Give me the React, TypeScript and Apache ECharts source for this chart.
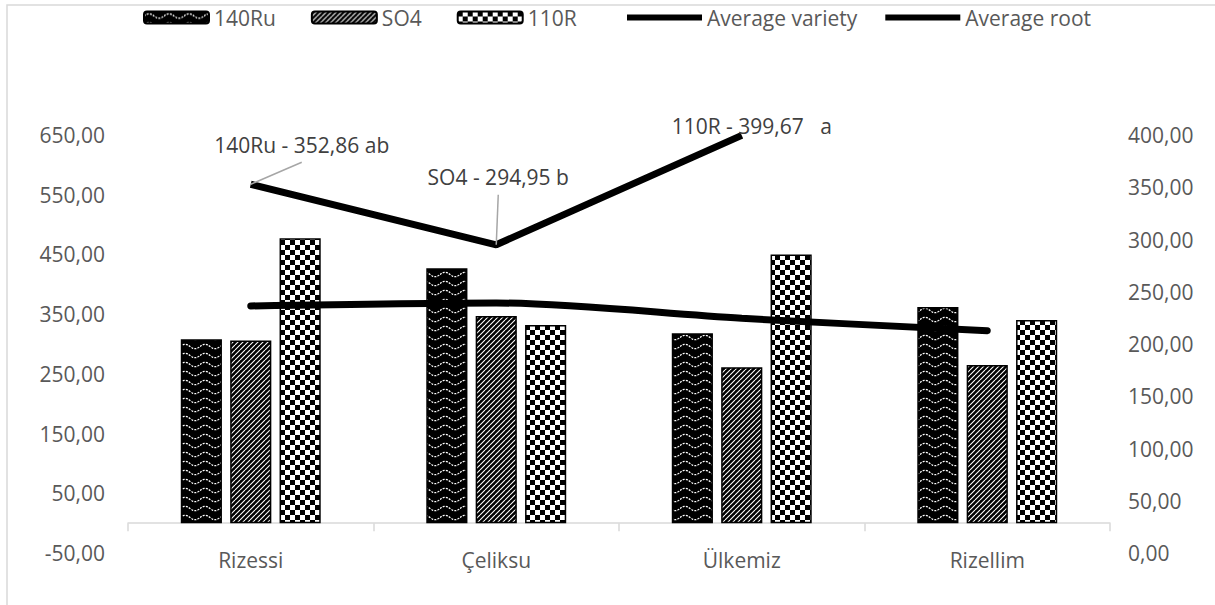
import React, { useEffect, useRef } from "react";
import * as echarts from "echarts";

// Grape varieties on the category axis
const categories = ["Rizessi", "Çeliksu", "Ülkemiz", "Rizellim"];

// Bar values per rootstock (left axis)
const ru140 = [308, 427, 318, 362];
const so4 = [306, 347, 261, 265];
const r110 = [477, 332, 450, 340];

// Mean of the three rootstocks for each variety (left axis)
const avgVariety = [363.7, 368.7, 343.0, 322.3];

// Mean per rootstock (right axis), placed on the first three categories
const rootNames = ["140Ru", "SO4", "110R"];
const avgRoot = [352.86, 294.95, 399.67];
const rootGroups = [" ab", " b", "   a"];

// Tick labels
const leftTicks = [-50, 50, 150, 250, 350, 450, 550, 650];
const rightTicks = [0, 50, 100, 150, 200, 250, 300, 350, 400];

const FONT = '"Open Sans", "Noto Sans", sans-serif';
const fmt = (v: number) => v.toFixed(2).replace(".", ",");

function tile(w: number, h: number, draw: (g: CanvasRenderingContext2D) => void) {
  const c = document.createElement("canvas");
  c.width = w;
  c.height = h;
  const g = c.getContext("2d") as CanvasRenderingContext2D;
  draw(g);
  return { image: c.toDataURL(), repeat: "repeat", imageWidth: w, imageHeight: h };
}

function makePatterns() {
  const wave = tile(20, 9, (g) => {
    g.fillStyle = "#000";
    g.fillRect(0, 0, 20, 9);
    g.strokeStyle = "#fff";
    g.lineWidth = 1.3;
    g.setLineDash([2, 1.2]);
    g.beginPath();
    for (let x = 0; x <= 20; x += 0.5) {
      const y = 4.5 - 2.2 * Math.sin((2 * Math.PI * x) / 20);
      if (x === 0) g.moveTo(x, y);
      else g.lineTo(x, y);
    }
    g.stroke();
  });
  const diag = tile(5, 5, (g) => {
    g.fillStyle = "#000";
    g.fillRect(0, 0, 5, 5);
    g.strokeStyle = "#fff";
    g.lineWidth = 1.1;
    for (const k of [-5, 0, 5]) {
      g.beginPath();
      g.moveTo(k, 5);
      g.lineTo(k + 5, 0);
      g.stroke();
    }
  });
  const checker = tile(10, 10, (g) => {
    g.fillStyle = "#fff";
    g.fillRect(0, 0, 10, 10);
    g.fillStyle = "#000";
    g.fillRect(0, 0, 5, 5);
    g.fillRect(5, 5, 5, 5);
  });
  return { wave, diag, checker };
}

export default function App() {
  const ref = useRef<HTMLDivElement>(null);

  useEffect(() => {
    if (!ref.current) return;
    const chart = echarts.init(ref.current, undefined, { renderer: "svg" });
    const p = makePatterns();

    const barStyle = (color: any) => ({ color, borderColor: "#000", borderWidth: 1.5 });
    const axisText = { color: "#595959", fontSize: 21, fontFamily: FONT };
    const legendText = { color: "#595959", fontSize: 21, fontFamily: FONT };

    chart.setOption({
      animation: false,
      backgroundColor: "#fff",
      textStyle: { fontFamily: FONT },
      legend: [
        {
          left: 138,
          top: 2,
          itemWidth: 65,
          itemHeight: 12,
          itemGap: 35,
          data: ["140Ru", "SO4", "110R"],
          textStyle: legendText,
          selectedMode: false,
        },
        {
          left: 622,
          top: 2,
          itemWidth: 75,
          itemHeight: 6,
          itemGap: 28,
          icon: "rect",
          data: ["Average variety", "Average root"],
          textStyle: legendText,
          selectedMode: false,
        },
      ],
      grid: { left: 128, right: 105, top: 135, bottom: 52, containLabel: false },
      xAxis: {
        type: "category",
        data: categories,
        axisLine: { onZero: true, onZeroAxisIndex: 0, lineStyle: { color: "#d9d9d9", width: 1.5 } },
        axisTick: { show: true, length: 8, lineStyle: { color: "#d9d9d9", width: 1.5 } },
        axisLabel: { ...axisText, margin: -4 },
        splitLine: { show: false },
      },
      yAxis: [
        {
          type: "value",
          min: -50,
          max: 650,
          interval: 50,
          axisLine: { show: false },
          axisTick: { show: false },
          splitLine: { show: false },
          axisLabel: {
            ...axisText,
            margin: 23,
            formatter: (v: number) => (leftTicks.includes(Math.round(v)) ? fmt(v) : ""),
          },
        },
        {
          type: "value",
          position: "right",
          min: 0,
          max: 400,
          interval: 50,
          axisLine: { show: false },
          axisTick: { show: false },
          splitLine: { show: false },
          axisLabel: {
            ...axisText,
            margin: 18,
            formatter: (v: number) => (rightTicks.includes(Math.round(v)) ? fmt(v) : ""),
          },
        },
      ],
      series: [
        { name: "140Ru", type: "bar", data: ru140, barGap: "20%", barCategoryGap: "43%", itemStyle: barStyle(p.wave) },
        { name: "SO4", type: "bar", data: so4, barGap: "20%", barCategoryGap: "43%", itemStyle: barStyle(p.diag) },
        { name: "110R", type: "bar", data: r110, barGap: "20%", barCategoryGap: "43%", itemStyle: barStyle(p.checker) },
        {
          name: "Average variety",
          type: "line",
          yAxisIndex: 0,
          data: avgVariety,
          symbol: "none",
          smooth: 0.3,
          z: 5,
          color: "#000",
          itemStyle: { color: "#000" },
          lineStyle: { color: "#000", width: 7, cap: "round" },
        },
        {
          name: "Average root",
          type: "line",
          yAxisIndex: 1,
          data: [...avgRoot, null],
          symbol: "none",
          z: 5,
          color: "#000",
          itemStyle: { color: "#000" },
          lineStyle: { color: "#000", width: 7, cap: "butt" },
        },
      ],
    });

    // Annotation offsets for each rootstock mean: label centre and leader end
    const labelOffsets = [
      { tx: 51, ty: -39, lx: 51, ly: -22, leader: true },
      { tx: 2, ty: -68, lx: 2, ly: -50, leader: true },
      { tx: 10, ty: -9, lx: 0, ly: 0, leader: false },
    ];
    const graphics: any[] = [
      {
        type: "rect",
        silent: true,
        z: -10,
        shape: { x: 7, y: 5, width: 1300, height: 700 },
        style: { fill: "none", stroke: "#d9d9d9", lineWidth: 1.5 },
      },
    ];
    avgRoot.forEach((v, i) => {
      const pt = chart.convertToPixel({ seriesIndex: 4 }, [i, v]) as number[];
      const o = labelOffsets[i];
      if (o.leader) {
        graphics.push({
          type: "line",
          silent: true,
          z: 20,
          shape: { x1: pt[0], y1: pt[1], x2: pt[0] + o.lx, y2: pt[1] + o.ly },
          style: { stroke: "#a6a6a6", lineWidth: 1.5 },
        });
      }
      graphics.push({
        type: "text",
        silent: true,
        z: 20,
        x: pt[0] + o.tx,
        y: pt[1] + o.ty,
        style: {
          text: `${rootNames[i]} - ${fmt(v)}${rootGroups[i]}`,
          fill: "#404040",
          font: `21px ${FONT}`,
          textAlign: "center",
          textVerticalAlign: "middle",
        },
      });
    });
    chart.setOption({ graphic: graphics });

    return () => chart.dispose();
  }, []);

  return (
    <div
      ref={ref}
      style={{ position: "fixed", left: 0, top: 0, width: 1215, height: 605, background: "#fff" }}
    />
  );
}
